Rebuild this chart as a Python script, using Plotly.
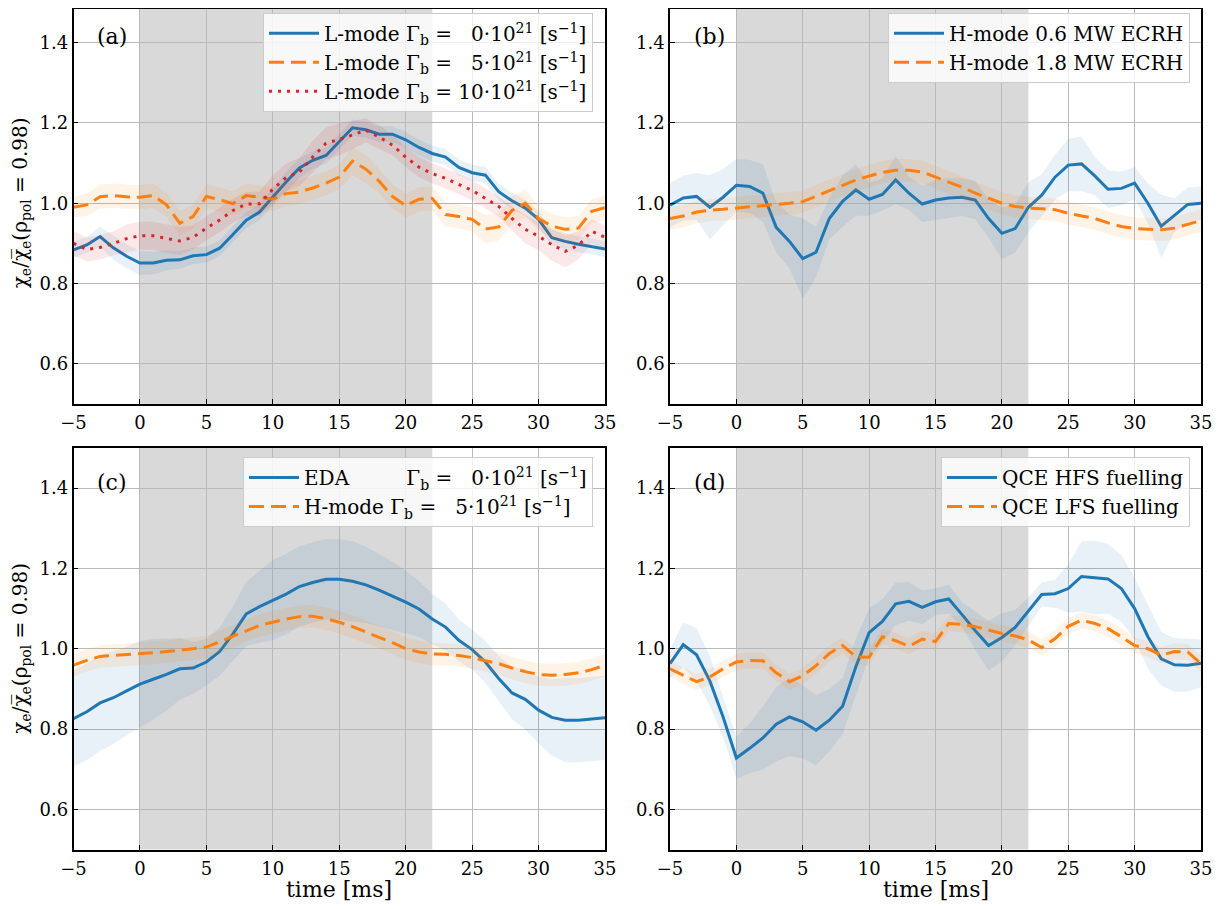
import plotly.graph_objects as go

# ---------------- data ----------------
t = list(range(-5, 36))

# panel (a)
a_l0 = [0.884, 0.896, 0.917, 0.889, 0.868, 0.851, 0.851, 0.858, 0.859, 0.869, 0.872, 0.888, 0.922, 0.958,
        0.978, 1.016, 1.053, 1.088, 1.107, 1.119, 1.153, 1.188, 1.183, 1.172, 1.172, 1.158, 1.139, 1.124,
        1.115, 1.089, 1.076, 1.070, 1.029, 1.006, 0.988, 0.960, 0.914, 0.905, 0.898, 0.892, 0.886]
a_l0_err = [0.02, 0.02, 0.025, 0.03, 0.03, 0.03, 0.028, 0.025, 0.022, 0.02, 0.02, 0.02, 0.02, 0.02,
            0.02, 0.022, 0.025, 0.025, 0.022, 0.02, 0.02, 0.02, 0.02, 0.02, 0.02, 0.02, 0.02, 0.02,
            0.02, 0.02, 0.02, 0.02, 0.02, 0.02, 0.02, 0.02, 0.02, 0.02, 0.02, 0.02, 0.02]
a_l5 = [0.990, 0.996, 1.016, 1.019, 1.016, 1.015, 1.019, 0.996, 0.950, 0.967, 1.017, 1.009, 0.999, 1.019,
        1.015, 1.010, 1.024, 1.028, 1.038, 1.050, 1.065, 1.105, 1.085, 1.055, 1.017, 0.994, 1.010, 1.012,
        0.972, 0.967, 0.960, 0.936, 0.941, 0.982, 1.000, 0.962, 0.943, 0.935, 0.938, 0.980, 0.989]
a_l5_err = [0.025, 0.028, 0.03, 0.03, 0.03, 0.03, 0.03, 0.03, 0.03, 0.03, 0.03, 0.03, 0.03, 0.03,
            0.03, 0.03, 0.03, 0.03, 0.03, 0.03, 0.03, 0.035, 0.035, 0.03, 0.03, 0.03, 0.03, 0.03,
            0.03, 0.03, 0.03, 0.035, 0.035, 0.035, 0.035, 0.03, 0.03, 0.03, 0.03, 0.03, 0.03]
a_l10 = [0.900, 0.885, 0.890, 0.900, 0.912, 0.919, 0.919, 0.912, 0.906, 0.915, 0.938, 0.958, 0.982, 0.998,
         0.999, 1.035, 1.064, 1.078, 1.115, 1.149, 1.159, 1.170, 1.182, 1.165, 1.145, 1.115, 1.090, 1.074,
         1.062, 1.048, 1.032, 1.012, 0.992, 0.962, 0.935, 0.918, 0.897, 0.880, 0.895, 0.930, 0.915]
a_l10_err = [0.03, 0.03, 0.03, 0.03, 0.035, 0.035, 0.035, 0.035, 0.035, 0.03, 0.03, 0.03, 0.03, 0.03,
             0.03, 0.035, 0.035, 0.035, 0.04, 0.04, 0.04, 0.035, 0.03, 0.03, 0.025, 0.025, 0.025, 0.025,
             0.025, 0.025, 0.025, 0.025, 0.025, 0.03, 0.035, 0.035, 0.04, 0.04, 0.035, 0.03, 0.03]

# panel (b)
b_06 = [0.995, 1.013, 1.017, 0.990, 1.015, 1.045, 1.042, 1.025, 0.940, 0.905, 0.862, 0.878, 0.962, 1.005,
        1.033, 1.010, 1.022, 1.058, 1.025, 0.998, 1.008, 1.013, 1.015, 1.008, 0.962, 0.925, 0.937, 0.990,
        1.020, 1.065, 1.095, 1.098, 1.068, 1.035, 1.037, 1.050, 1.000, 0.943, 0.970, 0.997, 1.000]
b_06_err = [0.055, 0.056, 0.058, 0.08, 0.07, 0.066, 0.066, 0.072, 0.063, 0.067, 0.10, 0.063, 0.052, 0.064,
            0.064, 0.041, 0.04, 0.06, 0.041, 0.045, 0.05, 0.05, 0.047, 0.048, 0.048, 0.064, 0.06, 0.062,
            0.052, 0.056, 0.065, 0.068, 0.048, 0.047, 0.042, 0.04, 0.05, 0.079, 0.042, 0.042, 0.042]
b_18 = [0.962, 0.968, 0.978, 0.983, 0.985, 0.988, 0.990, 0.993, 0.997, 1.000, 1.004, 1.018, 1.032, 1.046,
        1.058, 1.068, 1.077, 1.082, 1.082, 1.078, 1.066, 1.053, 1.040, 1.025, 1.012, 1.000, 0.992, 0.988,
        0.986, 0.984, 0.975, 0.968, 0.962, 0.951, 0.942, 0.937, 0.935, 0.934, 0.938, 0.948, 0.957]
b_18_err = [0.028] * 41

# panel (c)
c_eda = [0.826, 0.843, 0.865, 0.878, 0.895, 0.912, 0.924, 0.936, 0.950, 0.952, 0.967, 0.993, 1.037, 1.087,
         1.105, 1.121, 1.136, 1.155, 1.165, 1.173, 1.173, 1.168, 1.159, 1.146, 1.132, 1.116, 1.099, 1.074,
         1.054, 1.021, 0.998, 0.967, 0.926, 0.890, 0.874, 0.847, 0.829, 0.822, 0.822, 0.825, 0.828]
c_eda_err = [0.12, 0.12, 0.12, 0.115, 0.11, 0.107, 0.1, 0.09, 0.077, 0.065, 0.058, 0.06, 0.068, 0.08,
             0.09, 0.1, 0.1, 0.1, 0.1, 0.1, 0.1, 0.1, 0.095, 0.09, 0.085, 0.078, 0.07, 0.063,
             0.058, 0.052, 0.05, 0.052, 0.056, 0.065, 0.075, 0.083, 0.095, 0.105, 0.105, 0.105, 0.105]
c_h5 = [0.959, 0.971, 0.981, 0.983, 0.985, 0.987, 0.990, 0.993, 0.996, 1.000, 1.004, 1.017, 1.031, 1.045,
        1.058, 1.066, 1.074, 1.080, 1.081, 1.075, 1.066, 1.055, 1.042, 1.030, 1.015, 1.000, 0.992, 0.987,
        0.986, 0.983, 0.978, 0.970, 0.963, 0.952, 0.943, 0.936, 0.934, 0.936, 0.940, 0.948, 0.959]
c_h5_err = [0.028] * 41

# panel (d)
d_hfs = [0.963, 1.010, 0.985, 0.920, 0.830, 0.728, 0.752, 0.778, 0.812, 0.830, 0.818, 0.797, 0.822, 0.857,
         0.955, 1.040, 1.068, 1.112, 1.118, 1.103, 1.117, 1.124, 1.085, 1.045, 1.008, 1.028, 1.053, 1.093,
         1.135, 1.137, 1.150, 1.180, 1.177, 1.174, 1.150, 1.100, 1.030, 0.975, 0.960, 0.959, 0.964]
d_hfs_err = [0.035, 0.056, 0.066, 0.062, 0.05, 0.052, 0.062, 0.079, 0.093, 0.098, 0.091, 0.087, 0.078, 0.07,
             0.07, 0.06, 0.055, 0.053, 0.048, 0.042, 0.033, 0.036, 0.031, 0.048, 0.062, 0.06, 0.044, 0.035,
             0.03, 0.035, 0.06, 0.088, 0.092, 0.087, 0.083, 0.077, 0.079, 0.067, 0.067, 0.066, 0.059]
d_lfs = [0.950, 0.935, 0.918, 0.930, 0.950, 0.967, 0.971, 0.970, 0.940, 0.918, 0.933, 0.958, 0.988, 1.008,
         0.980, 0.979, 1.030, 1.020, 1.006, 1.024, 1.018, 1.063, 1.061, 1.055, 1.046, 1.038, 1.032, 1.022,
         1.003, 1.025, 1.056, 1.071, 1.063, 1.050, 1.030, 1.008, 1.000, 0.984, 0.993, 0.992, 0.963]
d_lfs_err = [0.02] * 41

shade_start, shade_end = 0, 22
x_ticks = [-5, 0, 5, 10, 15, 20, 25, 30, 35]
y_ticks = [0.6, 0.8, 1.0, 1.2, 1.4]

# ---------------- styling ----------------
BLUE = "#1f77b4"
ORANGE = "#ff7f0e"
RED = "#d62728"
FONT = "DejaVu Serif"

# page has an 8px body margin: figure sized so it fits the 1224x909 window
OFF = 8
W, H = 1224 - 2 * OFF, 909 - 2 * OFF


def px(xp):  # page x pixel -> paper fraction
    return (xp - OFF) / W


def py(yp):  # page y pixel -> paper fraction
    return 1 - (yp - OFF) / H


fig = go.Figure()

panels = {
    "a": ("x", "y", "legend"),
    "b": ("x2", "y2", "legend2"),
    "c": ("x3", "y3", "legend3"),
    "d": ("x4", "y4", "legend4"),
}


def rgba(hexcol, a):
    h = hexcol.lstrip("#")
    r, g, b = int(h[0:2], 16), int(h[2:4], 16), int(h[4:6], 16)
    return f"rgba({r},{g},{b},{a})"


def add_series(panel, y, err, color, dash, name):
    xa, ya, lg = panels[panel]
    hi = [v + e for v, e in zip(y, err)]
    lo = [v - e for v, e in zip(y, err)]
    fig.add_trace(go.Scatter(
        x=t + t[::-1], y=hi + lo[::-1], fill="toself", fillcolor=rgba(color, 0.1),
        line=dict(width=0), mode="lines", showlegend=False, hoverinfo="skip",
        xaxis=xa, yaxis=ya))
    fig.add_trace(go.Scatter(
        x=t, y=y, mode="lines", name=name, line=dict(color=color, width=3, dash=dash),
        xaxis=xa, yaxis=ya, legend=lg))


NB = "\u00a0"
add_series("a", a_l0, a_l0_err, BLUE, "solid",
           f"L-mode Γ<sub>b</sub> ={NB}{NB}{NB}0·10<sup>21</sup>{NB}[s<sup>−1</sup>]")
add_series("a", a_l5, a_l5_err, ORANGE, "15px,7px",
           f"L-mode Γ<sub>b</sub> ={NB}{NB}{NB}5·10<sup>21</sup>{NB}[s<sup>−1</sup>]")
add_series("a", a_l10, a_l10_err, RED, "3px,6px",
           f"L-mode Γ<sub>b</sub> = 10·10<sup>21</sup>{NB}[s<sup>−1</sup>]")

add_series("b", b_06, b_06_err, BLUE, "solid", "H-mode 0.6 MW ECRH")
add_series("b", b_18, b_18_err, ORANGE, "15px,7px", "H-mode 1.8 MW ECRH")

add_series("c", c_eda, c_eda_err, BLUE, "solid",
           f"EDA{NB*9}Γ<sub>b</sub> ={NB}{NB}{NB}0·10<sup>21</sup>{NB}[s<sup>−1</sup>]")
add_series("c", c_h5, c_h5_err, ORANGE, "15px,7px",
           f"H-mode Γ<sub>b</sub> ={NB}{NB}{NB}5·10<sup>21</sup>{NB}[s<sup>−1</sup>]")

add_series("d", d_hfs, d_hfs_err, BLUE, "solid", "QCE HFS fuelling")
add_series("d", d_lfs, d_lfs_err, ORANGE, "15px,7px", "QCE LFS fuelling")

# panel placement (page pixels from the reference)
LX0, LX1 = 73.5, 605
RX0, RX1 = 670, 1201
TOP_Y0, TOP_Y1 = 404, 9          # top row: bottom edge, clipped top edge
BOT_Y0, BOT_Y1 = 849.5, 448
PX_PER_UNIT = 401.5              # vertical pixels per unit of y
top_range_max = 0.5 + (TOP_Y0 - TOP_Y1) / PX_PER_UNIT

xl = [px(LX0), px(LX1)]
xr = [px(RX0), px(RX1)]
yt = [py(TOP_Y0), py(TOP_Y1)]
yb = [py(BOT_Y0), py(BOT_Y1)]

axis_common = dict(
    showline=True, linecolor="black", linewidth=1.5, mirror=True,
    ticks="inside", ticklen=5, tickwidth=1, tickcolor="black",
    showgrid=True, gridcolor="#b9b9b9", gridwidth=1, zeroline=False,
    automargin=False,
    tickfont=dict(family=FONT, size=18, color="black"),
)

layout_axes = {}
for i, (dom_x, dom_y, ymax) in enumerate([(xl, yt, top_range_max), (xr, yt, top_range_max),
                                          (xl, yb, 1.5), (xr, yb, 1.5)], start=1):
    sx = "" if i == 1 else str(i)
    xa = dict(axis_common, domain=dom_x, range=[-5, 35], tickvals=x_ticks, anchor=f"y{sx}",
              ticklabelstandoff=2)
    ya = dict(axis_common, domain=dom_y, range=[0.5, ymax], tickvals=y_ticks,
              tickformat=".1f", anchor=f"x{sx}")
    layout_axes[f"xaxis{sx}"] = xa
    layout_axes[f"yaxis{sx}"] = ya

shapes = []
for sx in ["", "2", "3", "4"]:
    shapes.append(dict(type="rect", xref=f"x{sx}", yref=f"y{sx} domain",
                       x0=shade_start, x1=shade_end, y0=0, y1=1,
                       fillcolor="#d9d9d9", line=dict(width=0), layer="below"))

legend_common = dict(
    font=dict(family=FONT, size=20, color="black"),
    bgcolor="rgba(255,255,255,0.8)", bordercolor="#cccccc", borderwidth=1,
    xanchor="right", yanchor="top", tracegroupgap=0, itemwidth=50,
)

annotations = []
for lab, xpx, ypx in [("(a)", 95, 37), ("(b)", 692, 37), ("(c)", 95, 482), ("(d)", 692, 482)]:
    annotations.append(dict(text=lab, xref="paper", yref="paper", x=px(xpx), y=py(ypx),
                            xanchor="left", yanchor="middle", showarrow=False,
                            font=dict(family=FONT, size=22, color="black")))

# axis titles as annotations
ylabel = "χ<sub>e</sub>/χ\u0305<sub>e</sub>(ρ<sub>pol</sub> = 0.98)"
for ycen in [(2.5 + 404) / 2, (448 + 849.5) / 2]:
    annotations.append(dict(text=ylabel, xref="paper", yref="paper", x=px(21), y=py(ycen),
                            xanchor="center", yanchor="middle", textangle=-90, showarrow=False,
                            font=dict(family=FONT, size=20, color="black")))
for xcen in [(LX0 + LX1) / 2, (RX0 + RX1) / 2]:
    annotations.append(dict(text="time [ms]", xref="paper", yref="paper", x=px(xcen), y=py(889),
                            xanchor="center", yanchor="middle", showarrow=False,
                            font=dict(family=FONT, size=22, color="black")))

fig.update_layout(
    width=W, height=H, autosize=False,
    margin=dict(l=0, r=0, t=0, b=0, pad=0),
    paper_bgcolor="white", plot_bgcolor="white",
    shapes=shapes, annotations=annotations,
    legend=dict(legend_common, x=px(593), y=py(12.7)),
    legend2=dict(legend_common, x=px(1190), y=py(12.7)),
    legend3=dict(legend_common, x=px(593), y=py(457)),
    legend4=dict(legend_common, x=px(1190), y=py(457)),
    **layout_axes,
)

fig.write_html("out.html")
